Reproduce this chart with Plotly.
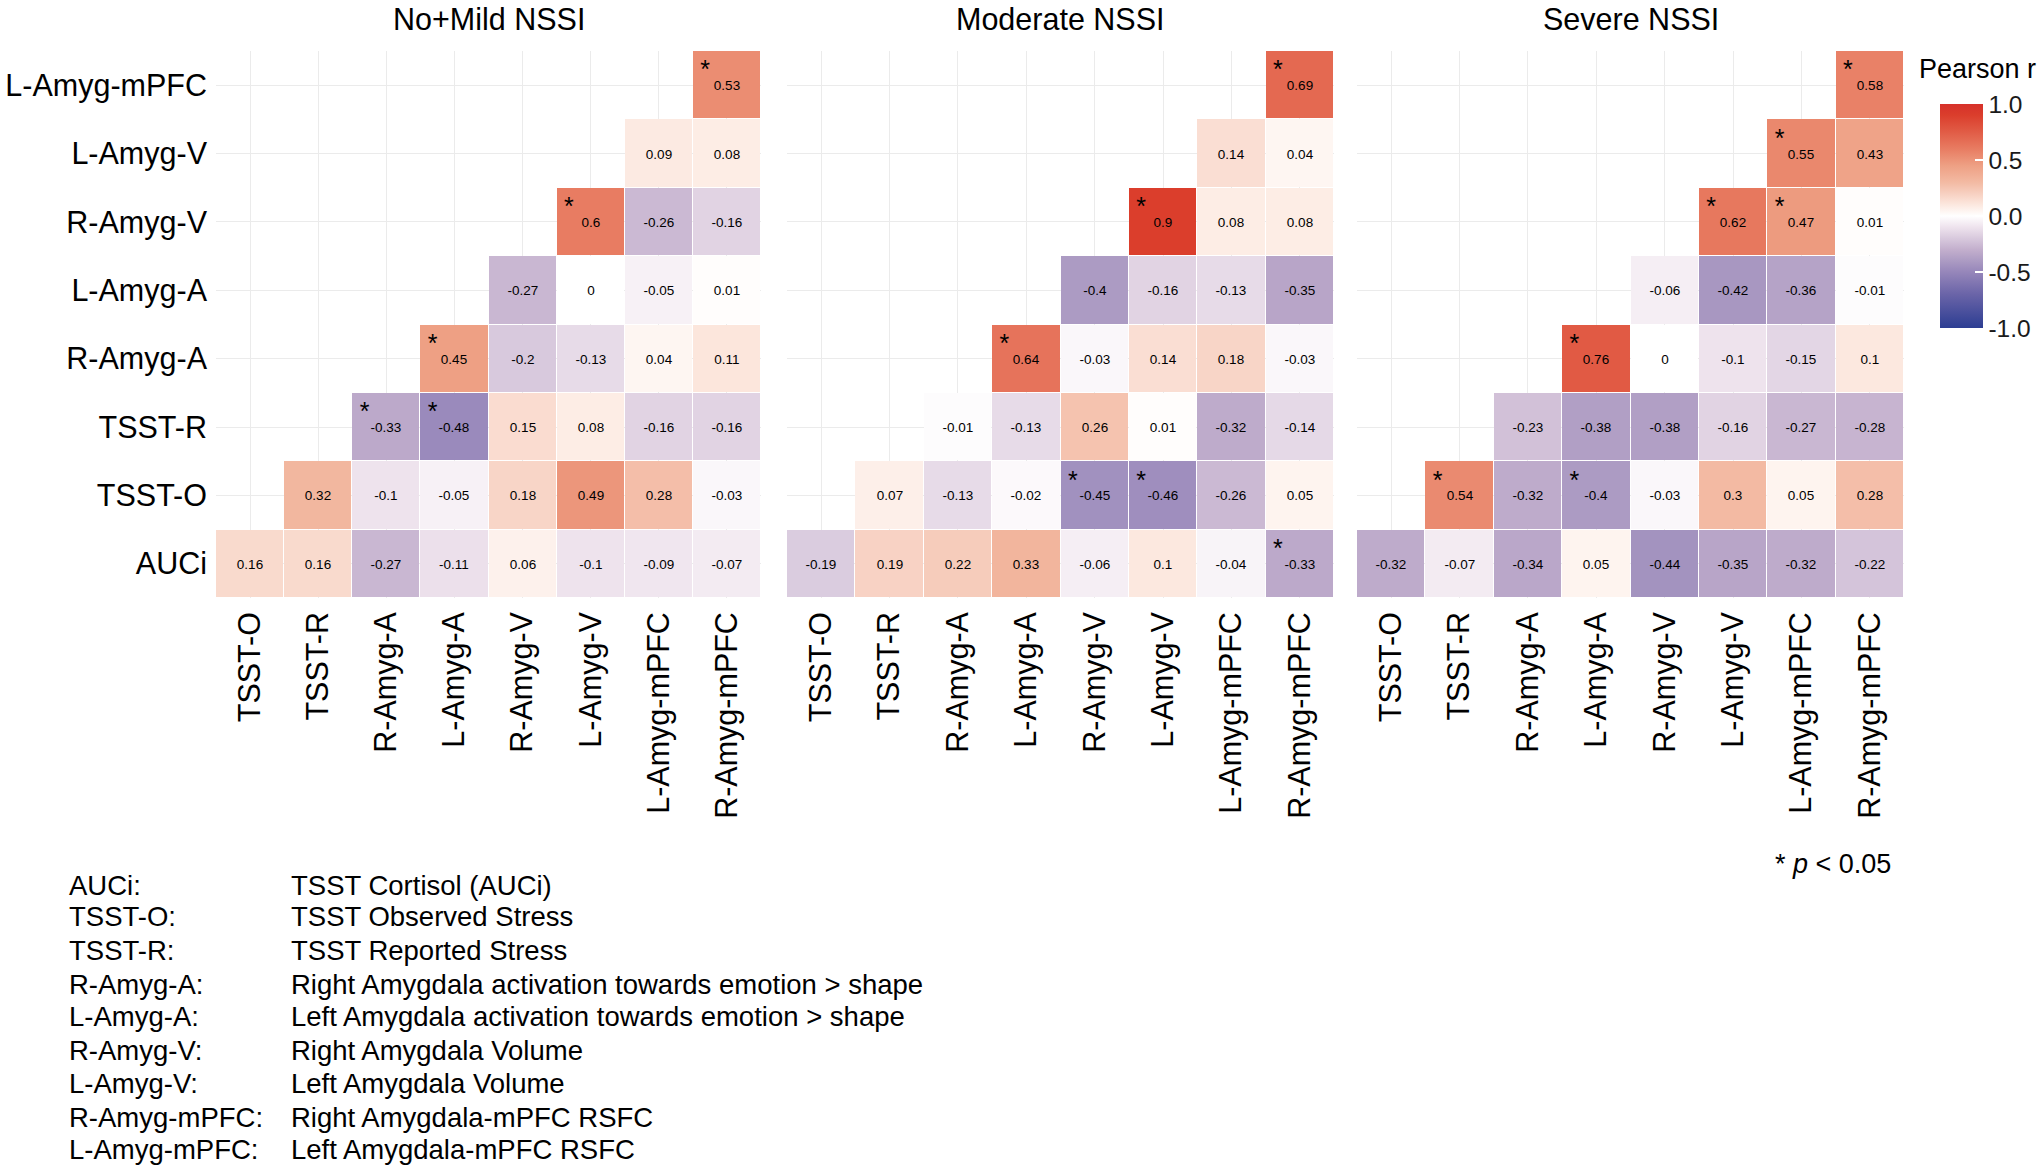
import plotly.graph_objects as go

W, H = 2043, 1173
FONT = "Liberation Sans, Arial, sans-serif"

columns = ["TSST-O", "TSST-R", "R-Amyg-A", "L-Amyg-A", "R-Amyg-V", "L-Amyg-V",
           "L-Amyg-mPFC", "R-Amyg-mPFC"]
rows_top_to_bottom = ["L-Amyg-mPFC", "L-Amyg-V", "R-Amyg-V", "L-Amyg-A",
                      "R-Amyg-A", "TSST-R", "TSST-O", "AUCi"]
panel_titles = ["No+Mild NSSI", "Moderate NSSI", "Severe NSSI"]

N = None
vals_mild = [
    [N, N, N, N, N, N, N, 0.53],
    [N, N, N, N, N, N, 0.09, 0.08],
    [N, N, N, N, N, 0.6, -0.26, -0.16],
    [N, N, N, N, -0.27, 0, -0.05, 0.01],
    [N, N, N, 0.45, -0.2, -0.13, 0.04, 0.11],
    [N, N, -0.33, -0.48, 0.15, 0.08, -0.16, -0.16],
    [N, 0.32, -0.1, -0.05, 0.18, 0.49, 0.28, -0.03],
    [0.16, 0.16, -0.27, -0.11, 0.06, -0.1, -0.09, -0.07],
]
vals_moderate = [
    [N, N, N, N, N, N, N, 0.69],
    [N, N, N, N, N, N, 0.14, 0.04],
    [N, N, N, N, N, 0.9, 0.08, 0.08],
    [N, N, N, N, -0.4, -0.16, -0.13, -0.35],
    [N, N, N, 0.64, -0.03, 0.14, 0.18, -0.03],
    [N, N, -0.01, -0.13, 0.26, 0.01, -0.32, -0.14],
    [N, 0.07, -0.13, -0.02, -0.45, -0.46, -0.26, 0.05],
    [-0.19, 0.19, 0.22, 0.33, -0.06, 0.1, -0.04, -0.33],
]
vals_severe = [
    [N, N, N, N, N, N, N, 0.58],
    [N, N, N, N, N, N, 0.55, 0.43],
    [N, N, N, N, N, 0.62, 0.47, 0.01],
    [N, N, N, N, -0.06, -0.42, -0.36, -0.01],
    [N, N, N, 0.76, 0, -0.1, -0.15, 0.1],
    [N, N, -0.23, -0.38, -0.38, -0.16, -0.27, -0.28],
    [N, 0.54, -0.32, -0.4, -0.03, 0.3, 0.05, 0.28],
    [-0.32, -0.07, -0.34, 0.05, -0.44, -0.35, -0.32, -0.22],
]
sig_mild = [("L-Amyg-mPFC", "R-Amyg-mPFC"), ("R-Amyg-V", "L-Amyg-V"),
            ("R-Amyg-A", "L-Amyg-A"), ("TSST-R", "R-Amyg-A"), ("TSST-R", "L-Amyg-A")]
sig_moderate = [("L-Amyg-mPFC", "R-Amyg-mPFC"), ("R-Amyg-V", "L-Amyg-V"),
                ("R-Amyg-A", "L-Amyg-A"), ("TSST-O", "R-Amyg-V"), ("TSST-O", "L-Amyg-V"),
                ("AUCi", "R-Amyg-mPFC")]
sig_severe = [("L-Amyg-mPFC", "R-Amyg-mPFC"), ("L-Amyg-V", "L-Amyg-mPFC"),
              ("R-Amyg-V", "L-Amyg-V"), ("R-Amyg-V", "L-Amyg-mPFC"),
              ("R-Amyg-A", "L-Amyg-A"), ("TSST-O", "TSST-R"), ("TSST-O", "L-Amyg-A")]

legend_abbr = ["AUCi:", "TSST-O:", "TSST-R:", "R-Amyg-A:", "L-Amyg-A:", "R-Amyg-V:",
               "L-Amyg-V:", "R-Amyg-mPFC:", "L-Amyg-mPFC:"]
legend_desc = ["TSST Cortisol (AUCi)", "TSST Observed Stress", "TSST Reported Stress",
               "Right Amygdala activation towards emotion &gt; shape",
               "Left Amygdala activation towards emotion &gt; shape",
               "Right Amygdala Volume", "Left Amygdala Volume",
               "Right Amygdala-mPFC RSFC", "Left Amygdala-mPFC RSFC"]

colorscale = [
    [0.0, "#2c3d92"], [0.15, "#6a64a8"], [0.25, "#9686ba"], [0.30, "#ac9bc3"],
    [0.35, "#c3afcd"], [0.40, "#d8c9dd"], [0.45, "#eee3ed"], [0.5, "#ffffff"],
    [0.55, "#fce8df"], [0.60, "#f7d0c1"], [0.65, "#f3baa3"], [0.725, "#eea084"],
    [0.80, "#e87c62"], [0.875, "#e15c46"], [0.95, "#db3e2c"], [1.0, "#d6312a"],
]

def px_x(x):
    return x / W

def px_y(y):
    return 1 - y / H

panel_px = [(216, 761), (787, 1334), (1357, 1904)]
top_px, bot_px = 51, 598

rows = rows_top_to_bottom[::-1]  # bottom -> top
fig = go.Figure()
panels = [(vals_mild, sig_mild), (vals_moderate, sig_moderate), (vals_severe, sig_severe)]

def fmt(v):
    return "" if v is None else f"{v:g}"

for i, (vals, sig) in enumerate(panels):
    z = vals[::-1]
    text = [[fmt(v) for v in r] for r in z]
    xa = "x" if i == 0 else f"x{i+1}"
    ya = "y" if i == 0 else f"y{i+1}"
    fig.add_trace(go.Heatmap(
        z=z, x=list(range(len(columns))), y=list(range(len(rows))),
        text=text, texttemplate="%{text}",
        textfont=dict(size=13.5, color="black", family=FONT),
        colorscale=colorscale, zmin=-1, zmax=1, xgap=1, ygap=1,
        showscale=(i == 2), xaxis=xa, yaxis=ya, hoverongaps=False,
        colorbar=dict(
            x=px_x(1940), xanchor="left", y=px_y(216), yanchor="middle",
            thickness=43, thicknessmode="pixels", len=224, lenmode="pixels",
            ypad=0, xpad=0, outlinewidth=0, tickvals=[-1, -0.5, 0, 0.5, 1],
            ticktext=["-1.0", "-0.5", "0.0", "0.5", "1.0"],
            ticks="inside", ticklen=8, tickcolor="white", tickwidth=1.5,
            tickfont=dict(size=24.5, color="#1a1a1a", family=FONT),
        ),
    ))
    sx = [columns.index(c) - 0.32 for r, c in sig]
    sy = [rows.index(r) + 0.19 for r, c in sig]
    fig.add_trace(go.Scatter(
        x=sx, y=sy, mode="text", text=["*"] * len(sig),
        textfont=dict(size=25, color="black", family=FONT),
        xaxis=xa, yaxis=ya, showlegend=False, hoverinfo="skip",
    ))
    x0, x1 = panel_px[i]
    axis_common = dict(showgrid=True, gridcolor="#ebebeb", gridwidth=1.3,
                       zeroline=False, showline=False, ticks="")
    fig.layout[("xaxis" if i == 0 else f"xaxis{i+1}")] = dict(
        domain=[px_x(x0), px_x(x1)], range=[-0.5, 7.5], anchor=ya,
        tickvals=list(range(len(columns))), ticktext=columns, tickangle=-90,
        tickfont=dict(size=30.5, color="black", family=FONT), ticklabelstandoff=7,
        **axis_common)
    fig.layout[("yaxis" if i == 0 else f"yaxis{i+1}")] = dict(
        domain=[px_y(bot_px), px_y(top_px)], range=[-0.5, 7.5], anchor=xa,
        tickvals=list(range(len(rows))), ticktext=rows, showticklabels=(i == 0),
        tickfont=dict(size=30.5, color="black", family=FONT), ticklabelstandoff=8,
        **axis_common)
    fig.add_annotation(text=panel_titles[i], x=px_x((x0 + x1) / 2), y=px_y(19),
                       xref="paper", yref="paper", showarrow=False,
                       xanchor="center", yanchor="middle",
                       font=dict(size=30.5, color="black", family=FONT))

fig.add_annotation(text="Pearson r", x=px_x(1917), y=px_y(69), xref="paper", yref="paper",
                   showarrow=False, xanchor="left", yanchor="middle",
                   font=dict(size=27, color="black", family=FONT))
fig.add_annotation(text="* <i>p</i> &lt; 0.05", x=px_x(1893), y=px_y(864),
                   xref="paper", yref="paper", showarrow=False, xanchor="right",
                   yanchor="middle", font=dict(size=27, color="black", family=FONT))

legend_y = [885, 917, 950, 984, 1016, 1050, 1083, 1117, 1149]
for ab, desc, ly in zip(legend_abbr, legend_desc, legend_y):
    fig.add_annotation(text=ab, x=px_x(67), y=px_y(ly), xref="paper", yref="paper",
                       showarrow=False, xanchor="left", yanchor="middle",
                       font=dict(size=27.5, color="black", family=FONT))
    fig.add_annotation(text=desc, x=px_x(289), y=px_y(ly), xref="paper", yref="paper",
                       showarrow=False, xanchor="left", yanchor="middle",
                       font=dict(size=27.5, color="black", family=FONT))

fig.update_layout(width=W, height=H, margin=dict(l=0, r=0, t=0, b=0),
                  paper_bgcolor="white", plot_bgcolor="white", showlegend=False)
# remove the browser's default 8px body margin so the 2043x1173 figure fills the window
fig.write_html("out.html", config={"displayModeBar": False}, post_script=(
    "document.body.style.margin='0';"
    "document.documentElement.style.overflow='hidden';"
    "document.body.style.overflow='hidden';"))
